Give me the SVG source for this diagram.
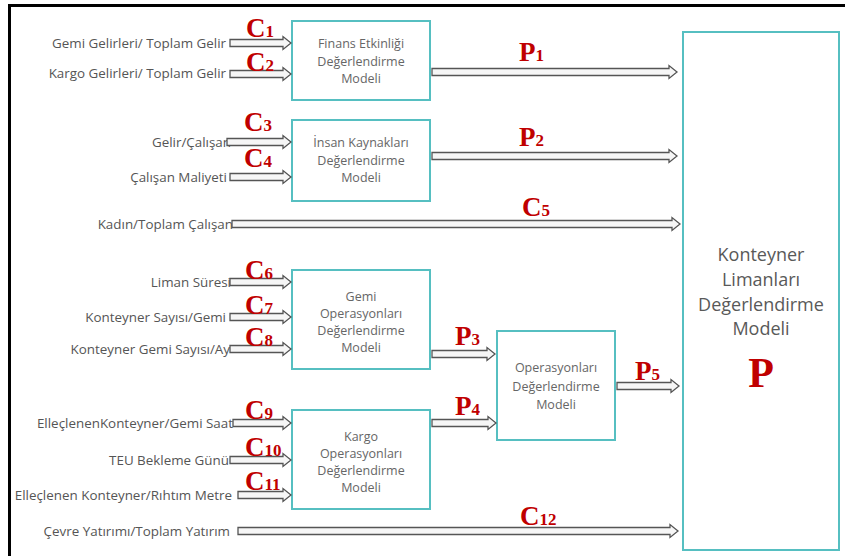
<svg xmlns="http://www.w3.org/2000/svg" width="845" height="556" viewBox="0 0 845 556">
<style>
.box{fill:#fff;stroke:#56bfc1;stroke-width:2}
.lbl{font-family:"Open Sans","Noto Sans",sans-serif;font-size:13.4px;fill:#555;text-anchor:end}
.bt{font-family:"Open Sans","Noto Sans",sans-serif;font-size:12.5px;fill:#666;text-anchor:middle}
.big{font-family:"Open Sans","Noto Sans",sans-serif;font-size:18px;fill:#595959;text-anchor:middle}
.red{font-family:"Liberation Serif","Times New Roman",serif;font-weight:bold;font-size:27px;fill:#c00000}
.bigp{font-size:42px;text-anchor:middle}
.sub{font-size:17px}
.arr{fill:#f6f6f6;stroke:#555;stroke-width:1.3;stroke-linejoin:miter}
</style>
<rect x="9.5" y="5.5" width="900" height="600" fill="#fff" stroke="#000" stroke-width="3"/>
<g id="left-labels">
<text class="lbl" x="226" y="47.5">Gemi Gelirleri/ Toplam Gelir</text>
<text class="lbl" x="226" y="78">Kargo Gelirleri/ Toplam Gelir</text>
<text class="lbl" x="231" y="146.5">Gelir/Çalışan</text>
<text class="lbl" x="227" y="181.5">Çalışan Maliyeti</text>
<text class="lbl" x="233" y="228.5">Kadın/Toplam Çalışan</text>
<text class="lbl" x="231" y="286.5">Liman Süresi</text>
<text class="lbl" x="226" y="321.5">Konteyner Sayısı/Gemi</text>
<text class="lbl" x="230" y="353.5">Konteyner Gemi Sayısı/Ay</text>
<text class="lbl" x="233" y="427.5">ElleçlenenKonteyner/Gemi Saat</text>
<text class="lbl" x="229" y="464.5">TEU Bekleme Günü</text>
<text class="lbl" x="232" y="499.5">Elleçlenen Konteyner/Rıhtım Metre</text>
<text class="lbl" x="230" y="535.5">Çevre Yatırımı/Toplam Yatırım</text>
</g>
<g id="finans">
<rect class="box" x="292" y="21" width="138" height="79"/>
<text class="bt" x="361" y="48">Finans Etkinliği</text>
<text class="bt" x="361" y="65.5">Değerlendirme</text>
<text class="bt" x="361" y="83">Modeli</text>
</g>
<g id="insan">
<rect class="box" x="292" y="120" width="138" height="81"/>
<text class="bt" x="361" y="147">İnsan Kaynakları</text>
<text class="bt" x="361" y="164.5">Değerlendirme</text>
<text class="bt" x="361" y="182">Modeli</text>
</g>
<g id="gemi">
<rect class="box" x="292" y="270" width="138" height="99"/>
<text class="bt" x="361" y="301">Gemi</text>
<text class="bt" x="361" y="318">Operasyonları</text>
<text class="bt" x="361" y="335">Değerlendirme</text>
<text class="bt" x="361" y="351.5">Modeli</text>
</g>
<g id="kargo">
<rect class="box" x="292" y="410" width="138" height="99"/>
<text class="bt" x="361" y="441">Kargo</text>
<text class="bt" x="361" y="458">Operasyonları</text>
<text class="bt" x="361" y="475">Değerlendirme</text>
<text class="bt" x="361" y="491.5">Modeli</text>
</g>
<g id="operasyon">
<rect class="box" x="497" y="331" width="118" height="109"/>
<text class="bt" x="556" y="372">Operasyonları</text>
<text class="bt" x="556" y="390.5">Değerlendirme</text>
<text class="bt" x="556" y="408.5">Modeli</text>
</g>
<g id="konteyner">
<rect class="box" x="683" y="32" width="156" height="518"/>
<text class="big" x="761" y="261">Konteyner</text>
<text class="big" x="761" y="286">Limanları</text>
<text class="big" x="761" y="311">Değerlendirme</text>
<text class="big" x="761" y="335">Modeli</text>
<text class="red bigp" x="761" y="387">P</text>
</g>
<g id="connectors">
<path class="arr" d="M230 39.5H283V36.5L291 43L283 49.5V46.5H230Z"/>
<path class="arr" d="M230 70.5H283V67.5L291 74L283 80.5V77.5H230Z"/>
<path class="arr" d="M432 68.5H669V65.5L677 72L669 78.5V75.5H432Z"/>
<path class="arr" d="M227 138.5H283V135.5L291 142L283 148.5V145.5H227Z"/>
<path class="arr" d="M230 173.5H283V170.5L291 177L283 183.5V180.5H230Z"/>
<path class="arr" d="M432 152.5H669V149.5L677 156L669 162.5V159.5H432Z"/>
<path class="arr" d="M232 220.5H672V217.5L680 224L672 230.5V227.5H232Z"/>
<path class="arr" d="M230 278.5H283V275.5L291 282L283 288.5V285.5H230Z"/>
<path class="arr" d="M230 313.5H283V310.5L291 317L283 323.5V320.5H230Z"/>
<path class="arr" d="M230 345.5H283V342.5L291 349L283 355.5V352.5H230Z"/>
<path class="arr" d="M432 350.5H487V347.5L495 354L487 360.5V357.5H432Z"/>
<path class="arr" d="M432 419.5H488V416.5L496 423L488 429.5V426.5H432Z"/>
<path class="arr" d="M617 382.5H671V379.5L679 386L671 392.5V389.5H617Z"/>
<path class="arr" d="M233 419.5H283V416.5L291 423L283 429.5V426.5H233Z"/>
<path class="arr" d="M230 456.5H283V453.5L291 460L283 466.5V463.5H230Z"/>
<path class="arr" d="M238 491.5H283V488.5L291 495L283 501.5V498.5H238Z"/>
<path class="arr" d="M238 527.5H670V524.5L678 531L670 537.5V534.5H238Z"/>
</g>
<g id="connector-labels">
<text class="red" x="246" y="37">C<tspan class="sub">1</tspan></text>
<text class="red" x="246" y="71">C<tspan class="sub">2</tspan></text>
<text class="red" x="244" y="131">C<tspan class="sub">3</tspan></text>
<text class="red" x="244" y="167">C<tspan class="sub">4</tspan></text>
<text class="red" x="522" y="216">C<tspan class="sub">5</tspan></text>
<text class="red" x="245" y="279">C<tspan class="sub">6</tspan></text>
<text class="red" x="245" y="314">C<tspan class="sub">7</tspan></text>
<text class="red" x="245" y="346">C<tspan class="sub">8</tspan></text>
<text class="red" x="245" y="419">C<tspan class="sub">9</tspan></text>
<text class="red" x="245" y="456">C<tspan class="sub">10</tspan></text>
<text class="red" x="245" y="490">C<tspan class="sub">11</tspan></text>
<text class="red" x="520" y="525">C<tspan class="sub">12</tspan></text>
<text class="red" x="519" y="61">P<tspan class="sub">1</tspan></text>
<text class="red" x="519" y="146">P<tspan class="sub">2</tspan></text>
<text class="red" x="455" y="345">P<tspan class="sub">3</tspan></text>
<text class="red" x="455" y="415">P<tspan class="sub">4</tspan></text>
<text class="red" x="635" y="380">P<tspan class="sub">5</tspan></text>
</g>
</svg>
